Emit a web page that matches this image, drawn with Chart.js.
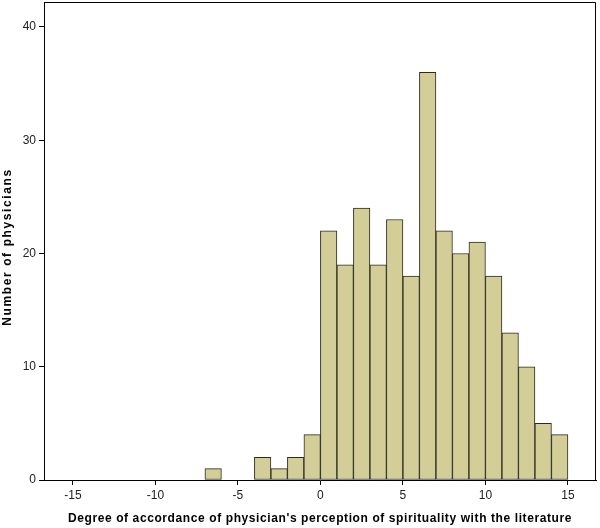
<!DOCTYPE html>
<html>
<head>
<meta charset="utf-8">
<script src="https://cdn.jsdelivr.net/npm/chart.js@4.4.1/dist/chart.umd.min.js"></script>
<style>
  html, body { margin: 0; padding: 0; background: #ffffff; }
  #wrap { width: 600px; height: 528px; position: relative; }
</style>
</head>
<body>
<div id="wrap"><canvas id="c" width="600" height="528"></canvas></div>
<script>
// Histogram bins (left edge of each bin, width 1) and counts
const binStarts = [-7, -4, -3, -2, -1, 0, 1, 2, 3, 4, 5, 6, 7, 8, 9, 10, 11, 12, 13, 14];
const counts    = [ 1,  2,  1,  2,  4, 22, 19, 24, 19, 23, 18, 36, 22, 20, 21, 18, 13, 10,  5,  4];
const binWidth = 1;
const xTickValues = [-15, -10, -5, 0, 5, 10, 15];
const yTickValues = [0, 10, 20, 30, 40];
const xTitle = "Degree of accordance of physician's perception of spirituality with the literature";
const yTitle = "Number of physicians";

const points = binStarts.map((s, i) => ({ x: s + binWidth / 2, y: counts[i] }));

function spacedTitle(scale, spacing, dx, dy) {
  if (scale._spacedPatched) return;
  scale._spacedPatched = true;
  const orig = scale.drawTitle;
  scale.drawTitle = function () {
    const ctx = this.ctx;
    ctx.save();
    ctx.letterSpacing = spacing;
    ctx.translate(dx, dy);
    orig.call(this);
    ctx.restore();
  };
}

const framePlugin = {
  id: 'frame',
  afterDraw(chart) {
    const { ctx, chartArea: a } = chart;
    ctx.save();
    ctx.strokeStyle = '#000';
    ctx.lineWidth = 1;
    ctx.beginPath();
    ctx.moveTo(a.left + 0.5, a.bottom);
    ctx.lineTo(a.left + 0.5, a.top + 0.5);
    ctx.lineTo(a.right - 0.5, a.top + 0.5);
    ctx.lineTo(a.right - 0.5, a.bottom);
    ctx.stroke();
    ctx.restore();
  }
};

new Chart(document.getElementById('c'), {
  type: 'bar',
  data: {
    datasets: [{
      data: points,
      backgroundColor: '#D3CE98',
      borderColor: '#2b2a1e',
      borderWidth: 1,
      borderSkipped: false,
      barPercentage: 1,
      categoryPercentage: 1
    }]
  },
  options: {
    responsive: false,
    animation: false,
    devicePixelRatio: 1,
    layout: { padding: { top: 2, right: 4, left: 0, bottom: 0 } },
    plugins: { legend: { display: false }, tooltip: { enabled: false } },
    scales: {
      x: {
        type: 'linear',
        min: -16.75,
        max: 16.7,
        offset: false,
        afterBuildTicks: s => { s.ticks = xTickValues.map(v => ({ value: v })); },
        afterFit: s => { s.height = 48; s.paddingLeft = 0; s.paddingRight = 0; spacedTitle(s, '0.6px', 0, 0); },
        grid: { display: true, offset: false, drawOnChartArea: false, drawTicks: true, tickLength: 5, color: '#000' },
        border: { display: true, color: '#000', width: 1 },
        ticks: { color: '#222', font: { family: 'Liberation Sans, Arial', size: 12 }, padding: 3, maxRotation: 0 },
        title: { display: true, text: xTitle, color: '#000', font: { family: 'Liberation Sans, Arial', size: 12, weight: 'bold' }, padding: { top: 0, bottom: 2 } }
      },
      y: {
        min: 0,
        max: 42.2,
        afterBuildTicks: s => { s.ticks = yTickValues.map(v => ({ value: v })); },
        afterFit: s => { s.width = 44; s.paddingTop = 0; s.paddingBottom = 0; spacedTitle(s, '1.6px', 0, 6); },
        grid: { display: true, offset: false, drawOnChartArea: false, drawTicks: true, tickLength: 5, color: '#000' },
        border: { display: true, color: '#000', width: 1 },
        ticks: { color: '#222', font: { family: 'Liberation Sans, Arial', size: 12 }, padding: 3 },
        title: { display: true, text: yTitle, color: '#000', font: { family: 'Liberation Sans, Arial', size: 12, weight: 'bold' }, padding: { top: 0, bottom: 0 } }
      }
    }
  },
  plugins: [framePlugin]
});
</script>
</body>
</html>
